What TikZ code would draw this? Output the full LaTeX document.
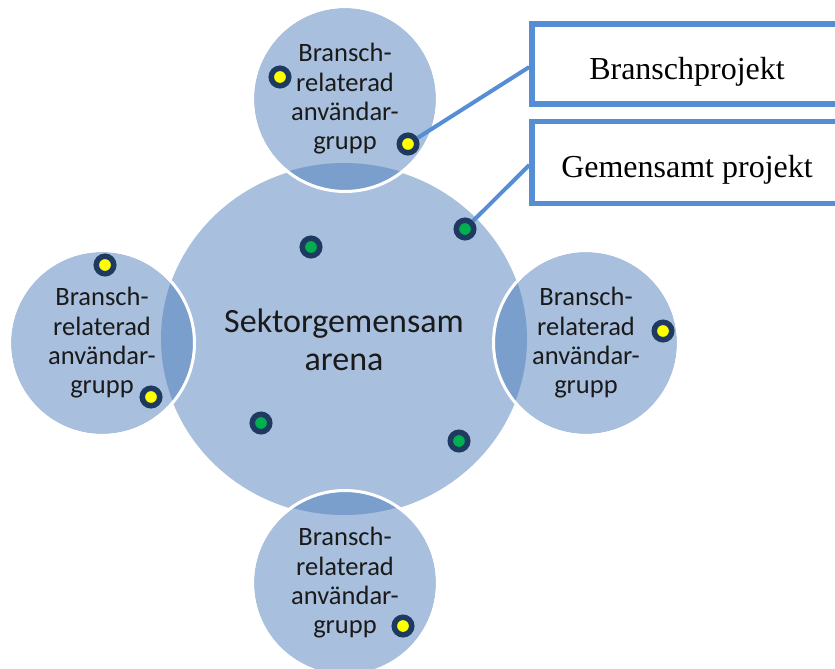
\documentclass[tikz,border=0pt]{standalone}
\usepackage{fontspec}
\setmainfont{Liberation Serif}
\newfontfamily\calib{Carlito}
\usetikzlibrary{shapes.geometric}
\definecolor{lightb}{RGB}{168,191,221}
\definecolor{darkb}{RGB}{122,159,204}
\definecolor{lineb}{RGB}{85,142,213}
\definecolor{ringc}{RGB}{31,58,96}
\definecolor{dotY}{RGB}{255,255,0}
\definecolor{dotG}{RGB}{0,176,80}
\definecolor{txt}{RGB}{26,26,26}
\tikzset{
  arenabox/.style={ellipse, fill=lightb, minimum width=366pt, minimum height=352pt, inner sep=0pt,
    align=center, text=txt, font=\calib\fontsize{34}{37.5}\selectfont},
  smallc/.style={circle, fill=lightb, minimum size=182pt, inner sep=0pt,
    align=center, text=txt, font=\calib\fontsize{26.5}{29.3}\selectfont},
  projbox/.style={rectangle, draw=lineb, line width=5.5pt, fill=white, minimum width=310pt,
    inner sep=0pt, font=\fontsize{32}{36}\selectfont},
  conn/.style={draw=lineb, line width=4pt},
  ydot/.style={circle, draw=ringc, line width=5.5pt, fill=dotY, minimum size=17.5pt, inner sep=0pt},
  gdot/.style={circle, draw=ringc, line width=5.5pt, fill=dotG, minimum size=17.5pt, inner sep=0pt},
}
\begin{document}
\begin{tikzpicture}[x=1pt,y=-1pt]
\useasboundingbox (0,0) rectangle (835,669);
\clip (0,0) rectangle (835,669);
% central arena
\node[arenabox] (arena) at (344,340) {Sektorgemensam\\arena};
% small circles
\node[smallc] (gt) at (345,99) {Bransch-\\relaterad\\användar-\\grupp};
\node[smallc] (gl) at (102,343) {Bransch-\\relaterad\\användar-\\grupp};
\node[smallc] (gr) at (586,343) {Bransch-\\relaterad\\användar-\\grupp};
\node[smallc] (gb) at (345,583) {Bransch-\\relaterad\\användar-\\grupp};
% overlaps
\begin{scope}
  \clip (344,339) ellipse [x radius=183, y radius=176];
  \foreach \n in {gt,gl,gr,gb} {
    \fill[darkb] (\n.center) circle [radius=91];
  }
\end{scope}
% white outlines
\foreach \n in {gt,gl,gr,gb} {
  \draw[white, line width=3pt] (\n.center) circle [radius=92.5];
}
% boxes
\node[projbox, minimum height=80pt] (bp) at (687,64) {\raisebox{-16pt}[0pt][0pt]{Branschprojekt}};
\node[projbox, minimum height=82pt] (gp) at (687,162.5) {\raisebox{-15pt}[0pt][0pt]{Gemensamt projekt}};
% dots
\node[ydot] (y1) at (280,77) {};
\node[ydot] (y2) at (408,144) {};
\node[ydot] (y3) at (105,265) {};
\node[ydot] (y4) at (151,397) {};
\node[ydot] (y5) at (663,331) {};
\node[ydot] (y6) at (403,626) {};
\node[gdot] (g1) at (311,247) {};
\node[gdot] (g2) at (465,229) {};
\node[gdot] (g3) at (261,423) {};
\node[gdot] (g4) at (459,441) {};
% connectors
\path[conn] (y2) -- ([yshift=-3pt]bp.west);
\path[conn] (g2) -- ([yshift=-2.5pt]gp.west);
\end{tikzpicture}
\end{document}
